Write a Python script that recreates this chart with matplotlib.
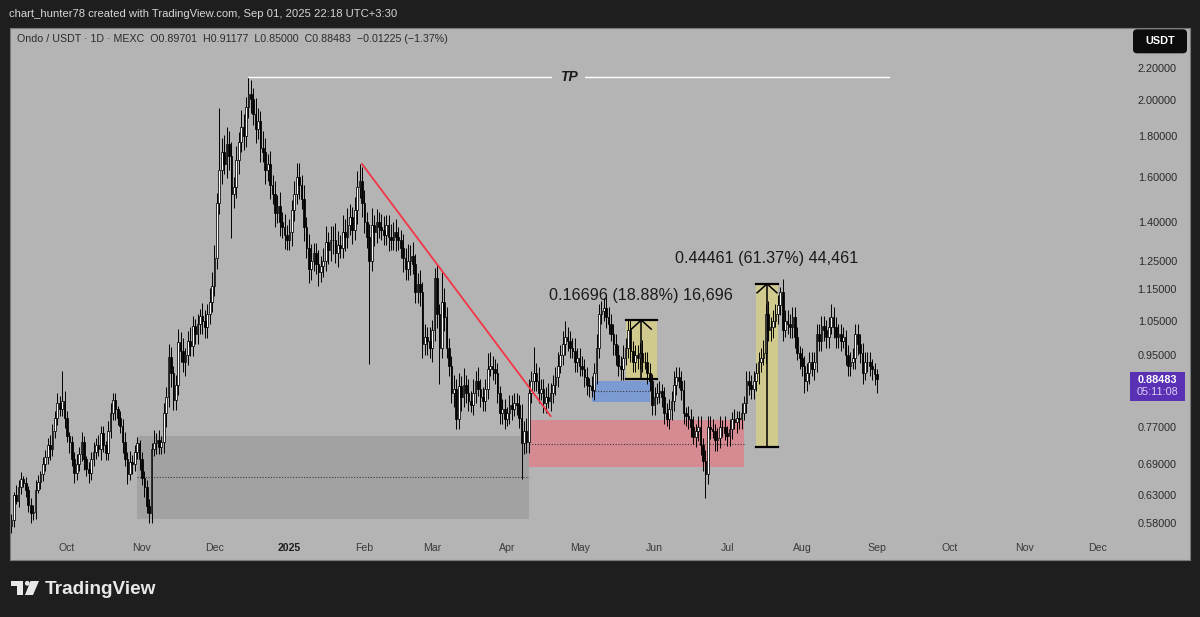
import numpy as np
import pandas as pd
import matplotlib
matplotlib.use('Agg')
import matplotlib.pyplot as plt
import matplotlib.patches as patches
from matplotlib.transforms import IdentityTransform, blended_transform_factory

plt.rcParams['font.family'] = ['Liberation Sans', 'DejaVu Sans']

# ---- daily candles, ONDO/USDT 1D (MEXC) ----
start_date = '2024-09-08'
first_open = 0.575
closes = [
    0.585, 0.630, 0.620, 0.645, 0.660, 0.652, 0.640,
    0.612, 0.598, 0.600, 0.640, 0.655, 0.670, 0.690,
    0.705, 0.730, 0.720, 0.760, 0.790, 0.825, 0.810,
    0.830, 0.790, 0.750, 0.735, 0.700, 0.672, 0.690,
    0.710, 0.735, 0.700, 0.680, 0.672, 0.700, 0.715,
    0.730, 0.720, 0.755, 0.730, 0.713, 0.760, 0.800,
    0.832, 0.810, 0.790, 0.771, 0.735, 0.700, 0.671,
    0.695, 0.690, 0.715, 0.733, 0.700, 0.663, 0.645,
    0.610, 0.598, 0.720, 0.733, 0.740, 0.725, 0.735,
    0.800, 0.840, 0.943, 0.900, 0.832, 0.870, 0.985,
    0.960, 0.930, 0.950, 0.990, 0.975, 1.034, 1.010,
    1.040, 1.064, 1.050, 1.030, 1.070, 1.110, 1.162,
    1.260, 1.480, 1.630, 1.720, 1.660, 1.760, 1.700,
    1.520, 1.550, 1.680, 1.770, 1.850, 1.800, 1.960,
    2.040, 2.010, 1.920, 1.840, 1.880, 1.740, 1.720,
    1.630, 1.660, 1.560, 1.520, 1.440, 1.470, 1.400,
    1.380, 1.350, 1.330, 1.360, 1.450, 1.520, 1.600,
    1.560, 1.500, 1.380, 1.300, 1.220, 1.250, 1.280,
    1.240, 1.210, 1.230, 1.250, 1.320, 1.290, 1.330,
    1.330, 1.280, 1.310, 1.300, 1.360, 1.340, 1.390,
    1.420, 1.370, 1.450, 1.550, 1.580, 1.480, 1.400,
    1.340, 1.250, 1.390, 1.360, 1.400, 1.380, 1.370,
    1.350, 1.390, 1.340, 1.330, 1.360, 1.340, 1.330,
    1.300, 1.260, 1.220, 1.250, 1.270, 1.240, 1.140,
    1.170, 1.140, 0.980, 1.000, 0.990, 0.970, 1.020,
    1.190, 1.070, 0.970, 1.110, 1.060, 0.970, 0.920,
    0.850, 0.860, 0.787, 0.866, 0.840, 0.870, 0.850,
    0.830, 0.820, 0.850, 0.880, 0.860, 0.840, 0.830,
    0.860, 0.910, 0.920, 0.910, 0.900, 0.850, 0.800,
    0.810, 0.787, 0.800, 0.820, 0.810, 0.825, 0.820,
    0.790, 0.733, 0.760, 0.735, 0.850, 0.880, 0.900,
    0.880, 0.850, 0.860, 0.826, 0.840, 0.830, 0.850,
    0.870, 0.890, 0.920, 0.950, 0.980, 1.000, 0.990,
    0.970, 0.960, 0.930, 0.940, 0.920, 0.910, 0.890,
    0.870, 0.866, 0.857, 0.900, 0.970, 1.070, 1.080,
    1.090, 1.060, 1.040, 1.010, 0.980, 0.950, 0.920,
    0.910, 0.940, 0.970, 1.020, 0.960, 0.930, 0.950,
    0.940, 0.955, 0.930, 0.930, 0.900, 0.880, 0.820,
    0.840, 0.850, 0.855, 0.840, 0.800, 0.787, 0.810,
    0.830, 0.870, 0.890, 0.880, 0.857, 0.800, 0.795,
    0.787, 0.770, 0.747, 0.760, 0.770, 0.730, 0.697,
    0.671, 0.770, 0.765, 0.760, 0.740, 0.745, 0.770,
    0.770, 0.755, 0.750, 0.765, 0.787, 0.780, 0.790,
    0.787, 0.800, 0.826, 0.880, 0.870, 0.860, 0.880,
    0.900, 0.930, 0.940, 0.955, 1.070, 1.020, 1.030,
    1.050, 1.070, 1.100, 1.140, 1.020, 1.050, 1.040,
    1.030, 1.060, 1.000, 0.955, 0.940, 0.920, 0.880,
    0.900, 0.930, 0.910, 0.930, 1.010, 0.990, 1.034,
    1.020, 1.000, 1.030, 1.060, 1.030, 1.000, 1.010,
    0.990, 1.000, 0.950, 0.920, 0.930, 0.940, 1.010,
    0.980, 0.955, 0.900, 0.930, 0.930, 0.920, 0.910,
    0.89701, 0.88483,
]
# wick sizes in % above max(open, close) / below min(open, close)
wick_up = [
    2, 1, 3, 2, 2, 1, 2,  1, 2, 2, 3, 2, 1, 2,  2, 2, 3, 2, 2, 3, 2,
    9, 3, 2, 1, 2, 2, 3,  2, 3, 2, 1, 2, 2, 3,  2, 3, 2, 2, 1, 3, 3,
    2, 2, 1, 2, 2, 3, 2,  3, 2, 2, 2, 1, 2, 2,  2, 2, 2, 4, 2, 3, 2,
    3, 3, 4, 3, 2, 3, 4,  3, 4, 2, 3, 4, 3, 2,  3, 2, 4, 3, 3, 4, 4,
    4, 3, 20, 4, 5, 5, 4, 4, 3, 4, 3, 5, 4, 3,  5, 4, 3, 5, 4, 3, 5,
    4, 3, 4, 3, 4, 3, 4,  3, 4, 3, 4, 3, 4, 4,  4, 3, 4, 3, 4, 5, 3,
    3, 4, 3, 4, 5, 3, 4,  4, 5, 4, 3, 5, 4, 5,  4, 3, 4, 5, 5, 4, 4,
    3, 4, 5, 3, 4, 3, 4,  4, 3, 3, 4, 3, 4, 3,  3, 4, 3, 5, 3, 4, 3,
    3, 4, 3, 4, 3, 4, 3,  3, 4, 3, 9, 4, 3, 3,  3, 4, 3, 4, 3, 5, 3,
    4, 3, 4, 3, 4, 3, 3,  3, 5, 4, 3, 3, 3, 2,  3, 3, 2, 3, 3, 3, 3,
    3, 4, 3, 4, 4, 3, 8,  3, 4, 3, 3, 3, 4, 3,  3, 3, 4, 3, 4, 5, 3,
    3, 3, 4, 3, 3, 3, 3,  3, 2, 3, 3, 4, 3, 3,  3, 4, 3, 3, 3, 3, 3,
    3, 4, 3, 3, 3, 3, 3,  3, 3, 4, 3, 3, 3, 2,  3, 3, 3, 2, 3, 3, 3,
    3, 4, 3, 3, 3, 3, 2,  3, 3, 3, 2, 3, 3, 2,  3, 3, 3, 3, 2, 3, 3,
    2, 3, 2, 3, 2, 3, 2,  2, 3, 2, 3, 3, 3, 3,  3, 3, 3, 4, 3, 4, 3,
    3, 3, 3, 1.5, 4, 3, 3, 3, 3, 3, 3, 2, 3, 3, 3, 3, 3, 3, 3, 3, 3,
    3, 3, 3, 4, 3, 3, 3,  3, 3, 2, 3, 3, 3, 3,  3, 3, 3, 3, 3, 3, 2,
    2, 1.6,
]
wick_dn = [
    2, 2, 1, 2, 2, 1, 2,  2, 3, 2, 2, 1, 2, 2,  2, 2, 3, 2, 2, 2, 2,
    2, 3, 2, 3, 2, 3, 2,  2, 2, 3, 2, 3, 2, 2,  2, 2, 3, 2, 2, 2, 2,
    2, 3, 2, 2, 3, 2, 3,  2, 3, 2, 2, 3, 2, 3,  2, 3, 3, 2, 3, 2, 2,
    3, 4, 3, 4, 3, 3, 3,  3, 3, 4, 3, 3, 3, 3,  3, 3, 4, 3, 3, 3, 3,
    3, 3, 3, 4, 3, 4, 4,  12, 4, 3, 4, 3, 4, 3, 3, 4, 3, 4, 3, 4, 3,
    4, 3, 4, 3, 4, 3, 4,  3, 4, 3, 3, 4, 3, 3,  4, 3, 4, 3, 4, 3, 3,
    3, 4, 3, 3, 3, 4, 3,  4, 3, 4, 3, 3, 4, 3,  3, 4, 3, 4, 3, 4, 3,
    3, 26, 3, 4, 3, 3, 3, 3, 3, 4, 3, 3, 4, 3,  3, 4, 3, 3, 4, 3, 3,
    3, 4, 4, 3, 4, 3, 4,  3, 4, 10, 3, 4, 3, 3, 3, 4, 3, 3, 4, 3, 3,
    3, 2, 3, 3, 2, 3, 3,  3, 3, 2, 3, 3, 3, 3,  3, 3, 2, 3, 3, 2, 3,
    3, 10, 3, 3, 3, 3, 3, 3, 3, 2, 3, 3, 2, 3,  3, 3, 3, 2, 3, 3, 3,
    3, 2, 3, 3, 3, 2, 3,  3, 3, 2, 3, 3, 3, 3,  3, 3, 3, 2, 3, 3, 3,
    3, 3, 2, 3, 3, 3, 3,  3, 3, 3, 2, 3, 3, 3,  3, 2, 3, 3, 3, 2, 3,
    3, 3, 3, 2, 3, 3, 3,  3, 3, 2, 3, 3, 3, 3,  7, 3, 3, 2, 3, 3, 3,
    3, 2, 3, 3, 3, 2, 3,  3, 3, 2, 3, 3, 3, 3,  3, 3, 3, 2, 3, 3, 3,
    3, 2, 3, 3, 3, 2, 3,  3, 3, 3, 2, 3, 3, 3.5, 3, 3, 2, 3, 3, 3, 3,
    3, 3, 3, 2, 3, 3, 3,  3, 2, 3, 3, 3, 2, 3,  3, 3, 3, 2, 3, 3, 3,
    3, 3.9,
]

# ---- axes labels ----
month_dates = ['2024-10-01', '2024-11-01', '2024-12-01', '2025-01-01', '2025-02-01',
               '2025-03-01', '2025-04-01', '2025-05-01', '2025-06-01', '2025-07-01',
               '2025-08-01', '2025-09-01', '2025-10-01', '2025-11-01', '2025-12-01']
month_labels = ['Oct', 'Nov', 'Dec', '2025', 'Feb', 'Mar', 'Apr', 'May', 'Jun', 'Jul',
                'Aug', 'Sep', 'Oct', 'Nov', 'Dec']
price_ticks = [0.58, 0.63, 0.69, 0.77, 0.95, 1.05, 1.15, 1.25, 1.40, 1.60, 1.80, 2.00, 2.20]

# ---- drawings ----
tp_level = 2.144
tp_start, tp_end = '2024-12-15', '2025-09-06'
trend_dates = ['2025-01-31', '2025-04-19']
trend_prices = [1.66, 0.794]
grey_zone = ('2024-10-30', '2025-04-10', 0.5878, 0.7489, 0.6648)
pink_zone = ('2025-04-10', '2025-07-08', 0.6833, 0.7843, 0.7315)
blue_zone = ('2025-05-06', '2025-05-30', 0.8284, 0.8798, 0.8540)
measure_1 = ('2025-05-20', '2025-06-02', 0.88432, 1.05128)
measure_2 = ('2025-07-13', '2025-07-22', 0.72448, 1.16909)

PANE = '#b4b4b4'
DARK = '#1e1e1e'

base = pd.Timestamp('2024-10-01')


def day(s):
    return (pd.Timestamp(s) - base).days


n = len(closes)
x = np.arange(n) + day(start_date)
c = np.array(closes, dtype=float)
o = np.r_[first_open, c[:-1]]
hi = np.maximum(o, c) * (1 + np.array(wick_up) / 100)
lo = np.minimum(o, c) * (1 - np.array(wick_dn) / 100)
up = c >= o

W, H = 1200, 617
fig = plt.figure(figsize=(12, 6.17), dpi=100, facecolor=DARK)
ax = fig.add_axes([9.5 / W, 57 / H, 1180.5 / W, 532 / H])
ax.set_facecolor(PANE)
ax.set_yscale('log')
ax.set_xlim(-23.78, 464.43)
ax.set_ylim(0.52107, 2.4710)
for s in ax.spines.values():
    s.set_color('#7a7a7a')
    s.set_linewidth(0.8)

# zones
for (d0, d1, p0, p1, pm), col in [(grey_zone, '#a2a2a2'), (pink_zone, '#d68a92'),
                                   (blue_zone, '#7c9bd3')]:
    ax.add_patch(patches.Rectangle((day(d0), p0), day(d1) - day(d0), p1 - p0,
                                   facecolor=col, edgecolor='none', zorder=1))
    ax.plot([day(d0), day(d1)], [pm, pm], color='#3c3c3c', lw=0.8, ls=(0, (1, 1.5)), zorder=2)

for d0, d1, p0, p1 in [measure_1, measure_2]:
    ax.add_patch(patches.Rectangle((day(d0), p0), day(d1) - day(d0), p1 - p0,
                                   facecolor='#d1ca8e', edgecolor='none', zorder=1))

# candles
ax.vlines(x, lo, hi, color='black', lw=0.7, zorder=3)
ax.bar(x[up], (c - o)[up], bottom=o[up], width=0.7, color='white',
       edgecolor='black', lw=0.55, zorder=4)
ax.bar(x[~up], (o - c)[~up], bottom=c[~up], width=0.7, color='black',
       edgecolor='black', lw=0.55, zorder=4)

# TP line
ax.plot([day(tp_start), day(tp_end)], [tp_level, tp_level], color='white', lw=1.0, zorder=5)
ax.text((day(tp_start) + day(tp_end)) / 2, tp_level, 'TP', ha='center', va='center',
        fontsize=10, fontweight='bold', fontstyle='italic', color='#1a1a1a', zorder=6,
        bbox=dict(boxstyle='square,pad=0.55', facecolor=PANE, edgecolor='none'))

# trend line
ax.plot([day(d) for d in trend_dates], trend_prices, color='#f23645', lw=1.3, zorder=5)

# price range measurements
for d0, d1, p0, p1 in [measure_1, measure_2]:
    a, b = day(d0), day(d1)
    mid = (a + b) / 2
    ax.plot([a, b], [p0, p0], color='black', lw=1.6, zorder=6)
    ax.plot([a, b], [p1, p1], color='black', lw=1.6, zorder=6)
    ax.plot([mid, mid], [p0, p1], color='black', lw=1.1, zorder=6)
    ax.plot([mid - 4.1, mid, mid + 4.1], [p1 * 0.974, p1, p1 * 0.974], color='black',
            lw=1.1, zorder=6)
    diff = p1 - p0
    label = f'{diff:.5f} ({diff / p0 * 100:.2f}%) {int(round(diff * 1e5)):,}'
    ax.annotate(label, (mid, p1), xytext=(0, 18), textcoords='offset points',
                ha='center', va='center', fontsize=11.6, color='#1a1a1a', zorder=7)

# axes ticks
ax.yaxis.tick_right()
ax.set_yticks(price_ticks)
ax.set_yticklabels([f'{p:.5f}' for p in price_ticks])
ax.yaxis.set_minor_locator(matplotlib.ticker.NullLocator())
ax.tick_params(axis='y', length=0, pad=-9.4, labelsize=7.8, labelcolor='#2a2a2a')
for lbl in ax.get_yticklabels():
    lbl.set_ha('right')

ax.set_xticks([day(d) for d in month_dates])
ax.set_xticklabels(month_labels)
ax.tick_params(axis='x', length=0, pad=-12.5, labelsize=7.6, labelcolor='#3a3a3a')
ax.get_xticklabels()[3].set_fontweight('bold')
ax.get_xticklabels()[3].set_color('#1e1e1e')

# last price tag
last = c[-1]
tr = blended_transform_factory(ax.transAxes, ax.transData)
ax.add_patch(patches.Rectangle((0.9492, last * np.exp(-0.0635)), 0.0468,
                               last * np.exp(0.0214) - last * np.exp(-0.0635),
                               transform=tr, facecolor='#5a31b5', edgecolor='none',
                               zorder=8, clip_on=False))
ax.annotate(f'{last:.5f}', (0.9726, last), xycoords=tr, xytext=(0, -0.5),
            textcoords='offset points', ha='center', va='center', fontsize=7.8,
            fontweight='bold', color='white', zorder=9)
ax.annotate('05:11:08', (0.9726, last), xycoords=tr, xytext=(0, -9.7),
            textcoords='offset points', ha='center', va='center', fontsize=7.8,
            color='#dcd2f7', zorder=9)

# header texts
fig.text(9.3 / W, 1 - 14 / H, 'chart_hunter78 created with TradingView.com, Sep 01, 2025 22:18 UTC+3:30',
         ha='left', va='center', fontsize=8.1, color='#d6d6d6')
fig.text(17.3 / W, 1 - 39.3 / H,
         'Ondo / USDT · 1D · MEXC  O0.89701  H0.91177  L0.85000  C0.88483  −0.01225 (−1.37%)',
         ha='left', va='center', fontsize=7.7, color='#2b2b2b')

# USDT badge
fig.add_artist(patches.FancyBboxPatch((1133, H - 53.3), 54, 24,
                                      boxstyle='round,pad=0,rounding_size=4',
                                      facecolor='#0c0c0c', edgecolor='none',
                                      transform=IdentityTransform()))
fig.text(1160 / W, 1 - 41.3 / H, 'USDT', ha='center', va='center', fontsize=7.8,
         fontweight='bold', color='white')

# TradingView logo
ident = IdentityTransform()
fig.add_artist(patches.Rectangle((10.7, H - 585.7), 12.6, 4.7, facecolor='#e8e8e8',
                                 edgecolor='none', transform=ident))
fig.add_artist(patches.Rectangle((16.7, H - 595), 6.6, 14, facecolor='#e8e8e8',
                                 edgecolor='none', transform=ident))
fig.add_artist(patches.Circle((27.3, H - 583.3), 2.4, facecolor='#e8e8e8',
                              edgecolor='none', transform=ident))
fig.add_artist(patches.Polygon([(30.5, H - 581), (39, H - 581), (33, H - 595), (25, H - 595)],
                               closed=True, facecolor='#e8e8e8', edgecolor='none',
                               transform=ident))
fig.text(45 / W, 1 - 589 / H, 'TradingView', ha='left', va='center', fontsize=13.7,
         fontweight='bold', color='#e8e8e8')

fig.savefig('out.png', dpi=100, facecolor=DARK)
